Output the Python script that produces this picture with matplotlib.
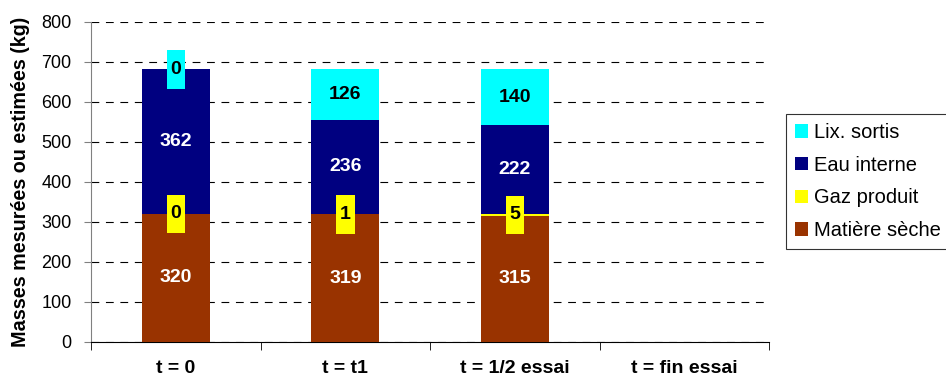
import matplotlib
matplotlib.use("Agg")
import matplotlib.pyplot as plt
from matplotlib.patches import Rectangle
import numpy as np

plt.rcParams['font.family'] = ['Liberation Sans', 'DejaVu Sans']

categories = ["t = 0", "t = t1", "t = 1/2 essai", "t = fin essai"]
matiere = [320, 319, 315, 0]
gaz = [0, 1, 5, 0]
eau = [362, 236, 222, 0]
lix = [0, 126, 140, 0]
has_data = [True, True, True, False]

c_mat, c_gaz, c_eau, c_lix = "#993300", "#FFFF00", "#000080", "#00FFFF"

fig = plt.figure(figsize=(9.46, 3.85), dpi=100)
ax = fig.add_axes([0.0962, 0.1117, 0.717, 0.8313])

x = np.arange(len(categories))
w = 0.4
b1 = np.array(matiere)
b2 = b1 + np.array(gaz)
b3 = b2 + np.array(eau)

ax.bar(x, matiere, w, color=c_mat, label="Matière sèche", zorder=3)
ax.bar(x, gaz, w, bottom=b1, color=c_gaz, label="Gaz produit", zorder=3)
ax.bar(x, eau, w, bottom=b2, color=c_eau, label="Eau interne", zorder=3)
ax.bar(x, lix, w, bottom=b3, color=c_lix, label="Lix. sortis", zorder=3)

small = 50
def label(i, bottom, val, color, txtcolor):
    if not has_data[i]:
        return
    if val < small:
        yc = bottom + val / 2
        ax.add_patch(Rectangle((i - 0.054, yc - 48.5), 0.108, 97, facecolor=color,
                               edgecolor='none', zorder=4))
        ax.text(i, yc, str(val), ha='center', va='center', fontsize=14,
                fontweight='bold', color='black', zorder=5)
    else:
        ax.text(i, bottom + val / 2, str(val), ha='center', va='center', fontsize=14,
                fontweight='bold', color=txtcolor, zorder=5)

for i in range(len(categories)):
    label(i, 0, matiere[i], c_mat, 'white')
    label(i, b1[i], gaz[i], c_gaz, 'black')
    label(i, b2[i], eau[i], c_eau, 'white')
    label(i, b3[i], lix[i], c_lix, 'black')

ax.set_xlim(-0.5, len(categories) - 0.5)
ax.set_ylim(0, 800)
ax.set_yticks(range(0, 801, 100))
ax.set_xticks(x)
ax.set_xticklabels(categories, fontsize=14, fontweight='bold')
ax.set_xticks(np.arange(-0.5, len(categories), 1.0), minor=True)
ax.tick_params(axis='x', which='major', length=0, pad=13)
ax.tick_params(axis='x', which='minor', length=6, direction='out', color='black')
ax.tick_params(axis='y', length=5, direction='out', color='#808080', labelsize=13, pad=9)
ax.yaxis.grid(True, color='black', linestyle=(0, (7, 6)), linewidth=0.8, zorder=0)
ax.set_axisbelow(True)
for s in ['top', 'right']:
    ax.spines[s].set_visible(False)
ax.spines['left'].set_color('#808080')
ax.spines['bottom'].set_color('black')
ax.set_ylabel("Masses mesurées ou estimées (kg)", fontsize=14.2, fontweight='bold')
ax.yaxis.set_label_coords(-0.0897, 0.5)

handles, labels = ax.get_legend_handles_labels()
leg = fig.legend(handles[::-1], labels[::-1], loc='upper left',
                 bbox_to_anchor=(0.831, 0.704), fontsize=14.5, frameon=True,
                 fancybox=False, edgecolor='black', handlelength=0.65, handleheight=0.65,
                 handletextpad=0.26, labelspacing=0.68, borderpad=0.45, borderaxespad=0)
leg.get_frame().set_linewidth(0.8)

fig.savefig("out.png", dpi=100)
